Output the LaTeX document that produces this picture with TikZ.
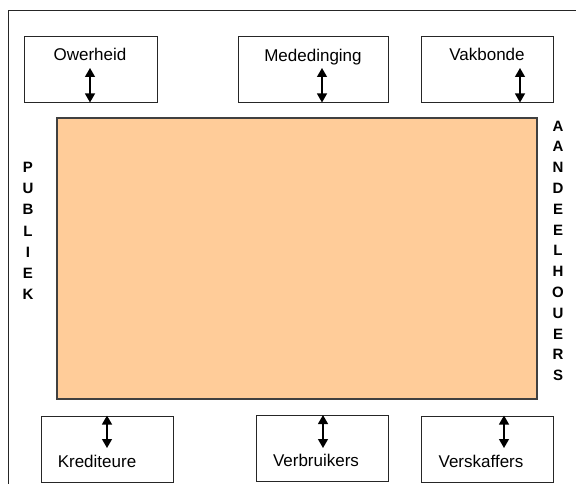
\documentclass[tikz,border=0pt]{standalone}
\usepackage{fontspec}
\setmainfont{Liberation Sans}
\usetikzlibrary{arrows.meta}
\definecolor{oranje}{RGB}{255,204,153}
\tikzstyle{blok}=[draw=black!85,line width=0.9pt,minimum height=66pt,inner sep=0pt]
\tikzstyle{naam}=[font=\fontsize{17}{20}\selectfont,inner sep=0pt,anchor=base]
\tikzstyle{letter}=[font=\fontsize{15}{18}\selectfont\bfseries,inner sep=0pt]
\tikzstyle{pyl}=[draw,line width=1.3pt,{Triangle[width=10pt,length=9pt]}-{Triangle[width=10pt,length=9pt]}]

\begin{document}
\begin{tikzpicture}[x=1pt,y=-1pt]
    \clip (0,0) rectangle (576,484);
    % outer frame, runs off the page at right and bottom
    \draw[black!85,line width=0.9pt] (8,10) rectangle (640,540);

    % the centre block
    \node[fill=oranje,draw=black!75,line width=1.3pt,minimum width=480pt,minimum height=281pt,inner sep=0pt] (kern) at (297,258.5) {};

    % First we draw the boxes
    \foreach \pos/\name/\breed in {{(90.5,69)/owerheid/133}, {(313,69)/mededinging/150}, {(487,69)/vakbonde/132},
                                   {(107,449)/krediteure/132}, {(322,448.5)/verbruikers/132}, {(487,449)/verskaffers/132}}
        \node[blok,minimum width=\breed pt] (\name) at \pos {};

    \foreach \pos/\name/\tekst in {{(90,61)/owerheidT/Owerheid}, {(313,61.5)/mededingingT/Mededinging}, {(487,61)/vakbondeT/Vakbonde},
                                   {(97,467)/krediteureT/Krediteure}, {(316,466.5)/verbruikersT/Verbruikers}, {(481,467)/verskaffersT/Verskaffers}}
        \node[naam] (\name) at \pos {\tekst};

    % arrows inside the boxes
    \foreach \x/\name in {90/owerheid, 322/mededinging, 520/vakbonde}
    {
        \coordinate (\name P) at (\x,68);
        \path[pyl] (\name P) -- (\name P |- \name.south);
    }
    \foreach \x/\name in {107/krediteure, 323/verbruikers, 504/verskaffers}
    {
        \coordinate (\name P) at (\x,448);
        \path[pyl] (\name P |- \name.north) -- (\name P);
    }

    % vertical words
    \foreach \letter [count=\i from 0] in {P,U,B,L,I,E,K}
        \node[letter] (publiek\i) at (28,{167+21.3*\i}) {\letter};
    \foreach \letter [count=\i from 0] in {A,A,N,D,E,E,L,H,O,U,E,R,S}
        \node[letter] (aandeelhouers\i) at (558,{126+20.8*\i}) {\letter};
\end{tikzpicture}
\end{document}
